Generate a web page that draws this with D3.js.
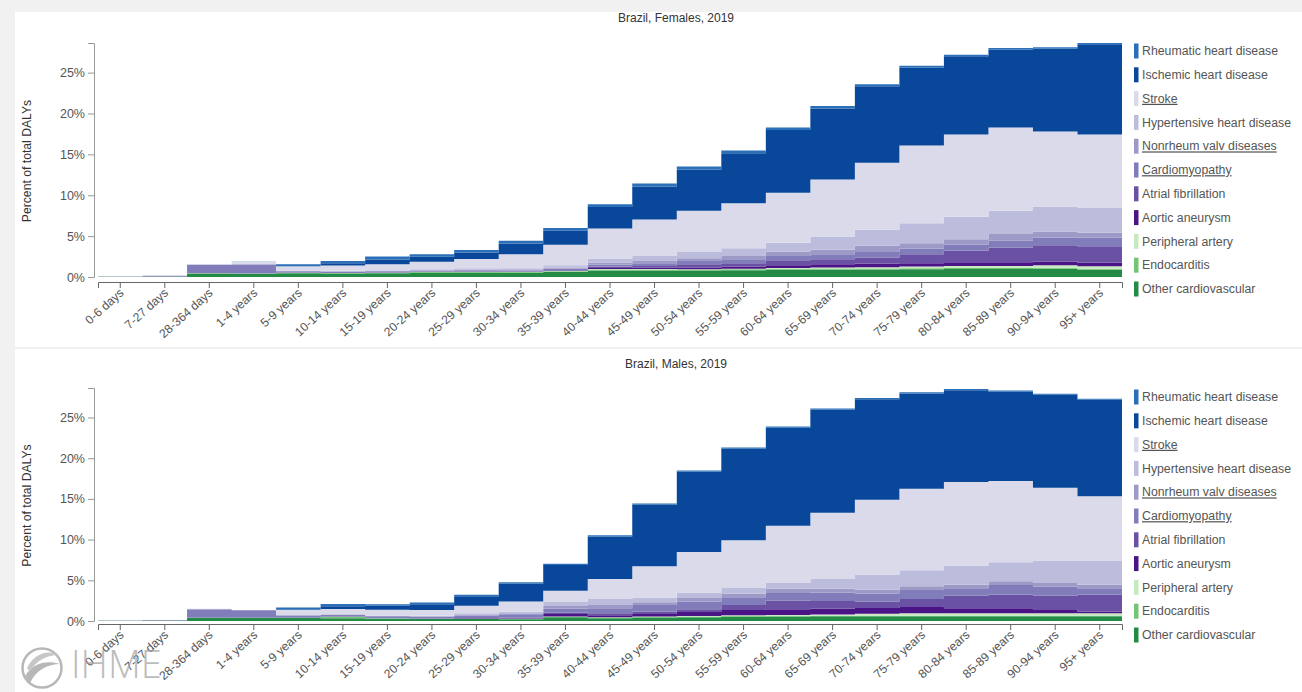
<!DOCTYPE html>
<html>
<head>
<meta charset="utf-8">
<script src="https://cdn.jsdelivr.net/npm/d3@7/dist/d3.min.js"></script>
<style>
  html, body { margin: 0; padding: 0; background: #f1f1f1; }
  svg { display: block; font-family: "Liberation Sans", Arial, sans-serif; }
</style>
</head>
<body>
<svg id="chart" width="1302" height="692"></svg>
<script>
// ---------------- DATA ----------------
const ageGroups = ["0-6 days","7-27 days","28-364 days","1-4 years","5-9 years","10-14 years",
  "15-19 years","20-24 years","25-29 years","30-34 years","35-39 years","40-44 years",
  "45-49 years","50-54 years","55-59 years","60-64 years","65-69 years","70-74 years",
  "75-79 years","80-84 years","85-89 years","90-94 years","95+ years"];

// legend order (top of stack first)
const causes = ["Rheumatic heart disease","Ischemic heart disease","Stroke","Hypertensive heart disease",
  "Nonrheum valv diseases","Cardiomyopathy","Atrial fibrillation","Aortic aneurysm",
  "Peripheral artery","Endocarditis","Other cardiovascular"];
const causeColors = ["#2a6fb7","#08479a","#dadaeb","#bcbddc","#9e9ac8","#807dba","#6a51a3",
  "#4a1486","#c7e9c0","#74c476","#238b45"];
const underlined = ["Stroke","Nonrheum valv diseases","Cardiomyopathy"];
const yTicks = [0, 5, 10, 15, 20, 25];

// Females, percent of total DALYs
const femaleRheumatic   = [0,0,0.02,0.02,0.22,0.3,0.35,0.3,0.3,0.32,0.33,0.35,0.35,0.35,0.33,0.33,0.3,0.25,0.25,0.2,0.2,0.15,0.15];
const femaleIschemic    = [0,0,0,0.01,0.03,0.27,0.59,0.6,0.8,1.32,1.72,2.61,4.06,5.04,6.13,7.68,8.69,9.36,9.52,9.57,9.53,10.16,11.05];
const femaleStroke      = [0,0,0.05,0.25,0.57,0.65,0.74,0.94,1.15,1.72,2.5,3.69,4.44,5.04,5.49,6.11,6.97,8.2,9.51,10.04,10.17,9.18,8.92];
const femaleHypertensive= [0,0,0,0.01,0.01,0.05,0.06,0.1,0.15,0.2,0.3,0.49,0.61,0.77,0.95,1.07,1.64,1.97,2.42,2.75,2.86,3.04,3.08];
const femaleNonrheum    = [0,0,0.03,0.03,0.04,0.05,0.06,0.05,0.07,0.08,0.12,0.24,0.29,0.33,0.41,0.53,0.53,0.74,0.66,0.65,0.82,0.73,0.6];
const femaleCardio      = [0.03,0.1,1.05,1.1,0.15,0.15,0.15,0.12,0.15,0.13,0.18,0.25,0.33,0.41,0.49,0.53,0.62,0.69,0.69,0.78,0.82,0.95,1.07];
const femaleAfib        = [0,0,0,0,0,0,0.01,0.01,0.02,0.02,0.06,0.16,0.2,0.41,0.41,0.62,0.61,0.74,1.1,1.4,1.8,2.0,2.0];
const femaleAortic      = [0,0,0,0,0.01,0,0.01,0.01,0.02,0.02,0.06,0.13,0.17,0.21,0.25,0.32,0.41,0.45,0.42,0.45,0.46,0.46,0.45];
const femalePeripheral  = [0,0,0,0,0,0,0,0,0,0,0.02,0.06,0.06,0.05,0.08,0.1,0.12,0.14,0.2,0.25,0.25,0.3,0.28];
const femaleEndocarditis= [0,0,0.07,0.06,0.08,0.08,0.08,0.1,0.1,0.1,0.1,0.12,0.12,0.11,0.12,0.13,0.13,0.13,0.13,0.13,0.13,0.13,0.12];
const femaleOther       = [0.03,0.06,0.38,0.38,0.45,0.42,0.45,0.55,0.55,0.52,0.6,0.8,0.8,0.78,0.82,0.88,0.9,0.92,0.94,0.97,0.97,1.0,0.9];

// Males, percent of total DALYs
const maleRheumatic   = [0,0,0,0,0.25,0.3,0.2,0.2,0.18,0.15,0.15,0.15,0.15,0.15,0.15,0.15,0.15,0.15,0.15,0.15,0.15,0.12,0.12];
const maleIschemic    = [0,0,0,0,0.04,0.32,0.5,0.71,1.18,2.21,3.15,5.22,7.53,9.88,11.23,12.06,12.64,12.37,11.71,11.28,10.96,11.42,11.85];
const maleStroke      = [0,0,0.03,0.02,0.62,0.66,0.7,0.7,0.91,1.24,1.32,2.48,3.85,4.96,5.87,7.02,8.14,9.18,10.0,10.25,9.96,8.92,7.89];
const maleHypertensive= [0,0,0,0,0.02,0.03,0.05,0.08,0.2,0.3,0.55,0.71,0.58,0.7,0.7,0.7,1.2,1.86,1.98,2.36,2.35,2.77,2.98];
const maleNonrheum    = [0,0,0.05,0.03,0.04,0.05,0.05,0.06,0.08,0.1,0.35,0.41,0.33,0.41,0.42,0.54,0.5,0.45,0.45,0.45,0.45,0.45,0.45];
const maleCardio      = [0.03,0.08,1.0,0.9,0.27,0.2,0.22,0.2,0.3,0.35,0.5,0.62,0.82,0.95,0.95,0.91,1.0,0.99,1.12,0.91,1.21,1.12,0.79];
const maleAfib        = [0,0,0,0,0,0,0,0.01,0.03,0.05,0.15,0.25,0.29,0.35,0.63,1.07,0.97,0.8,0.96,1.53,1.65,1.74,2.06];
const maleAortic      = [0,0,0,0,0,0.01,0.02,0.02,0.05,0.07,0.3,0.25,0.33,0.5,0.65,0.7,0.7,0.7,0.78,0.62,0.62,0.41,0.21];
const malePeripheral  = [0,0,0,0,0,0,0,0,0,0,0.02,0.03,0.03,0.05,0.1,0.12,0.15,0.25,0.3,0.3,0.3,0.3,0.3];
const maleEndocarditis= [0,0,0.05,0.05,0.05,0.18,0.05,0.05,0.05,0.05,0.08,0.07,0.08,0.08,0.08,0.08,0.08,0.08,0.08,0.08,0.08,0.08,0.08];
const maleOther       = [0.03,0.05,0.36,0.36,0.36,0.35,0.28,0.24,0.24,0.23,0.45,0.35,0.43,0.47,0.52,0.55,0.57,0.57,0.57,0.57,0.57,0.57,0.57];

const femaleSeries = [femaleRheumatic,femaleIschemic,femaleStroke,femaleHypertensive,femaleNonrheum,
  femaleCardio,femaleAfib,femaleAortic,femalePeripheral,femaleEndocarditis,femaleOther];
const maleSeries = [maleRheumatic,maleIschemic,maleStroke,maleHypertensive,maleNonrheum,
  maleCardio,maleAfib,maleAortic,malePeripheral,maleEndocarditis,maleOther];

// ---------------- DRAW ----------------
const FONT = "'Liberation Sans', Arial, sans-serif";
const svg = d3.select("#chart");
svg.append("rect").attr("width",1302).attr("height",692).attr("fill","#f1f1f1");

function toRows(series){
  return ageGroups.map((a,i)=>{
    const r = {age:a};
    causes.forEach((c,k)=>{ r[c] = series[k][i]; });
    return r;
  });
}
const femaleRows = toRows(femaleSeries), maleRows = toRows(maleSeries);
const stackKeys = causes.slice().reverse(); // bottom of stack first
const stacker = d3.stack().keys(stackKeys);
const allTotals = femaleRows.concat(maleRows).map(r=>d3.sum(causes,c=>r[c]));
const yMax = d3.max(allTotals);

const color = d3.scaleOrdinal().domain(causes).range(causeColors);

const panels = [
  {title:"Brazil, Females, 2019", rows:femaleRows, top:12, bottom:347, yTopPx:43, y0Px:277, xAxisPx:282, titleY:22, legendY:51},
  {title:"Brazil, Males, 2019", rows:maleRows, top:349, bottom:692, yTopPx:388, y0Px:621, xAxisPx:624, titleY:368, legendY:397}
];

const x = d3.scaleBand().domain(ageGroups).range([98,1122]).paddingInner(0).paddingOuter(0);

panels.forEach(p=>{
  svg.append("rect").attr("x",15).attr("y",p.top).attr("width",1302-15).attr("height",p.bottom-p.top)
     .attr("fill","#ffffff");

  const y = d3.scaleLinear().domain([0,yMax]).range([p.y0Px,p.yTopPx]);
  const g = svg.append("g");

  // title
  g.append("text").attr("x",676).attr("y",p.titleY).attr("text-anchor","middle")
   .attr("font-size",12).attr("fill","#333").text(p.title);

  // stacked step areas
  const layers = stacker(p.rows);
  const area = d3.area().curve(d3.curveStepAfter)
     .x(d=>d.x).y0(d=>y(d.v0)).y1(d=>y(d.v1));
  layers.forEach(layer=>{
    const pts = layer.map((d,i)=>({x:x(ageGroups[i]), v0:d[0], v1:d[1]}));
    const last = layer[layer.length-1];
    pts.push({x:x.range()[1], v0:last[0], v1:last[1]});
    g.append("path").attr("d",area(pts)).attr("fill",color(layer.key));
  });

  // y axis
  const yAxis = d3.axisLeft(y).tickValues(yTicks).tickFormat(d=>d+"%").tickSize(6).tickSizeOuter(6);
  const ya = g.append("g").attr("transform","translate(94,0)").call(yAxis);
  ya.select(".domain").attr("stroke","#999");
  ya.selectAll(".tick line").attr("stroke","#999");
  ya.selectAll(".tick text").attr("fill","#555").attr("font-size",12.5).attr("font-family",FONT);

  // y label
  g.append("text").attr("transform",`translate(31,${(p.y0Px+p.yTopPx)/2+1}) rotate(-90)`)
   .attr("text-anchor","middle").attr("font-size",12.2).attr("fill","#333").text("Percent of total DALYs");

  // x axis
  const xAxis = d3.axisBottom(x).tickSize(6).tickSizeOuter(6);
  const xa = g.append("g").attr("transform",`translate(0,${p.xAxisPx})`).call(xAxis);
  xa.select(".domain").attr("stroke","#666");
  xa.selectAll(".tick line").attr("stroke","#666");
  xa.selectAll(".tick text").attr("fill","#555").attr("font-size",12.2).attr("font-family",FONT)
    .attr("text-anchor","end").attr("x",2).attr("y",10).attr("dy","0.35em").attr("dx",0)
    .attr("transform","rotate(-42, 0, 10)");

  // legend
  const lg = g.append("g");
  causes.forEach((c,i)=>{
    const cy = p.legendY + i*23.8;
    lg.append("rect").attr("x",1134).attr("y",cy-7.5).attr("width",4.5).attr("height",15)
      .attr("fill",color(c));
    lg.append("text").attr("x",1142).attr("y",cy+4.2).attr("font-size",12.3).attr("fill","#555")
      .attr("text-decoration", underlined.includes(c) ? "underline" : null).text(c);
  });
});

// IHME logo watermark
const logo = svg.append("g").attr("opacity",0.7);
logo.append("circle").attr("cx",42).attr("cy",668).attr("r",19.5).attr("fill","none")
    .attr("stroke","#9a9a9a").attr("stroke-width",2.5);
logo.append("path").attr("d","M25,676 C33,662 48,660 60,664 C48,664 36,670 30,683 Z").attr("fill","#9a9a9a");
logo.append("path").attr("d","M27,668 C35,652 50,650 58,655 C48,655 36,660 30,672 Z").attr("fill","#b0b0b0");
logo.append("text").attr("x",71).attr("y",678).attr("font-size",38)
    .attr("font-family","'Open Sans', 'Liberation Sans', sans-serif").attr("font-weight",300)
    .attr("fill","#a0a0a0").text("IHME");
</script>
</body>
</html>
